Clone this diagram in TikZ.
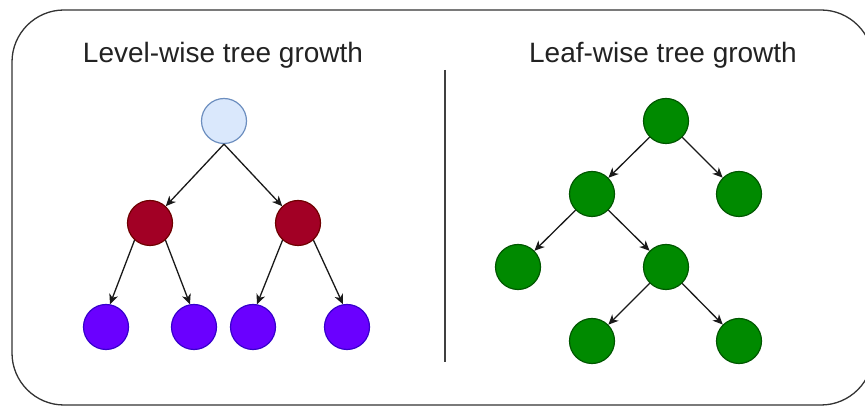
\documentclass[tikz,border=0pt]{standalone}
\usepackage{fontspec}
\setmainfont{Liberation Sans}
\usetikzlibrary{arrows.meta}
\definecolor{lblue}{HTML}{DAE8FC}
\definecolor{lblueb}{HTML}{6C8EBF}
\definecolor{dred}{HTML}{A20025}
\definecolor{dredb}{HTML}{6F0000}
\definecolor{purp}{HTML}{6A00FF}
\definecolor{purpb}{HTML}{3700CC}
\definecolor{grn}{HTML}{008A00}
\definecolor{grnb}{HTML}{005700}
\definecolor{txt}{HTML}{222222}
\tikzset{
  x=1pt,y=1pt,
  treenode/.style={circle,draw,line width=1.2pt,minimum size=45pt,inner sep=0pt},
  rootn/.style={treenode,fill=lblue,draw=lblueb},
  redn/.style={treenode,fill=dred,draw=dredb},
  purpn/.style={treenode,fill=purp,draw=purpb},
  grnn/.style={treenode,fill=grn,draw=grnb},
  arr/.style={draw=black!90,line width=1.3pt,-{Stealth[length=10pt,width=9pt,inset=3pt]}},
  title/.style={font=\fontsize{28}{32}\selectfont,text=txt,anchor=base,inner sep=0pt}
}
\begin{document}
\begin{tikzpicture}
\clip (0,0) rectangle (865,407);
\draw[black!80,line width=1.3pt,rounded corners=52pt] (12,2) rectangle (873,397);
\draw[black!75,line width=1.3pt] (445,337) -- (445,45);
\node[title] (t1) at (223,344) {Level-wise tree growth};
\node[title] (t2) at (663,344) {Leaf-wise tree growth};
% left tree
\node[rootn] (a) at (224,286) {};
\node[redn] (r1) at (150,184) {};
\node[redn] (r2) at (298,184) {};
\node[purpn] (p1) at (106,80) {};
\node[purpn] (p2) at (194,80) {};
\node[purpn] (p3) at (253,80) {};
\node[purpn] (p4) at (347,80) {};
\draw[arr] (a.south) -- (r1);
\draw[arr] (a.south) -- (r2);
\draw[arr] (r1.228) -- (p1.80);
\draw[arr] (r1.-48) -- (p2.100);
\draw[arr] (r2.228) -- (p3.80);
\draw[arr] (r2.-48) -- (p4.100);
% right tree
\node[grnn] (g0) at (666,286) {};
\node[grnn] (g1) at (592,213) {};
\node[grnn] (g2) at (739,213) {};
\node[grnn] (g3) at (518,140) {};
\node[grnn] (g4) at (666,140) {};
\node[grnn] (g5) at (592,66) {};
\node[grnn] (g6) at (739,66) {};
\draw[arr] (g0) -- (g1);
\draw[arr] (g0) -- (g2);
\draw[arr] (g1) -- (g3);
\draw[arr] (g1) -- (g4);
\draw[arr] (g4) -- (g5);
\draw[arr] (g4) -- (g6);
\end{tikzpicture}
\end{document}
